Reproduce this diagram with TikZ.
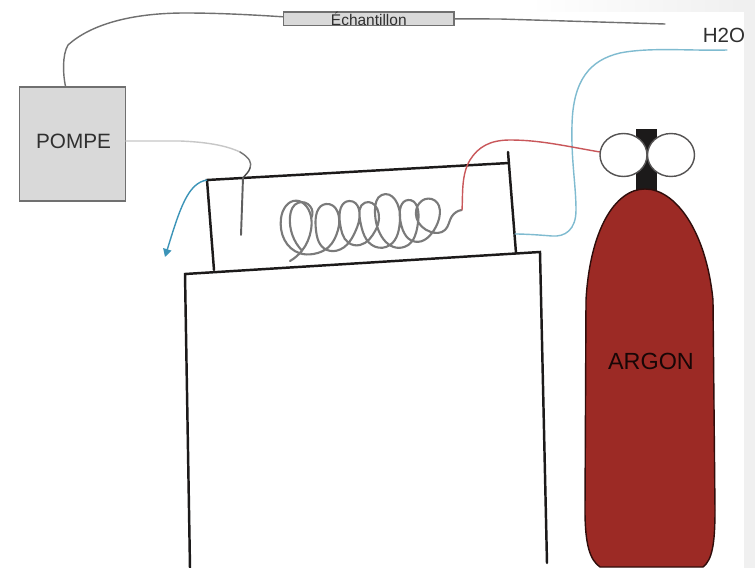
\documentclass[tikz,border=0pt]{standalone}
\usepackage{fontspec}
\setmainfont{Liberation Sans}
\usetikzlibrary{arrows.meta,shapes.geometric,hobby}
\definecolor{boxgray}{HTML}{D9D9D9}
\definecolor{edgegray}{HTML}{707070}
\definecolor{argonred}{HTML}{9C2A25}
\definecolor{waterblue}{HTML}{7FBBD0}
\definecolor{drainblue}{HTML}{3C94B8}
\definecolor{tubered}{HTML}{C9575A}
\definecolor{inkblack}{HTML}{1C1A1A}
\definecolor{textdark}{HTML}{303030}
\tikzset{
  x=0.02cm,y=-0.02cm,
  graybox/.style={draw=edgegray,fill=boxgray,line width=0.75pt,inner sep=0pt,text=textdark},
  label/.style={inner sep=0pt,text=textdark},
  wall/.style={draw=inkblack,line width=1.4pt,line cap=round},
  tube/.style={line width=0.8pt,line cap=round},
  coil/.style={draw=black!52,line width=1.2pt,line cap=round,line join=round},
  valve/.style={ellipse,draw=inkblack!75,fill=white,line width=0.8pt,inner sep=0pt,minimum width=0.94cm,minimum height=0.86cm},
}
\begin{document}
\begin{tikzpicture}
\useasboundingbox (0,0) rectangle (755,568);
% faint page edges
\fill[white] (0,0) rectangle (755,568);
\shade[left color=white,right color=black!6,draw=none] (530,0) rectangle (744,11);
\fill[black!6] (744,0) rectangle (755,568);
% nodes
\node[graybox,minimum width=2.11cm,minimum height=2.28cm] (pompe) at (72.5,144) {};
\node[label,font=\fontsize{11.8pt}{12pt}\selectfont] at (73.5,141) {POMPE};
\node[graybox,minimum width=3.41cm,minimum height=0.27cm,font=\fontsize{8.8pt}{10pt}\selectfont] (echant) at (368.8,18.8) {\smash{\raisebox{-0.125cm}{Échantillon}}};
\node[label,font=\fontsize{11.7pt}{12pt}\selectfont] (water) at (724,35) {H2O};
% coordinates for free ends
\coordinate (sinkend) at (665,24);
\coordinate (waterend) at (727,50);
\coordinate (waterin) at (515,234);
\coordinate (redin) at (462,210);
\coordinate (needletop) at (243,178);
\coordinate (needleend) at (241,235);
\coordinate (drainstart) at (207,180);
\coordinate (drainend) at (165,257);
% furnace
\draw[wall] (190,568) -- (185,274) -- (540,252) -- (547,563);
\draw[wall] (214,270) -- (207,180) -- (509,163);
\draw[wall] (508,152) -- (516,253);
% sample line
\draw[tube,draw=edgegray] ([xshift=-0.14cm]pompe.north) .. controls (63,75) and (62,55) .. (68,45) .. controls (90,25) and (130,13) .. (185,13) .. controls (220,13) and (255,15) .. ([yshift=0.04cm]echant.west);
\draw[tube,draw=edgegray] (echant.east) -- (500,19) -- (sinkend);
% pump tube
\draw[tube,draw=black!22] ([yshift=0.06cm]pompe.east) -- (180,141) .. controls (205,142) and (225,145) .. (240,152);
\draw[tube,draw=black!55] (240,152) .. controls (250,158) and (252,163) .. (250,168);
\draw[tube,draw=black!70] (250,168) .. controls (249,172) and (246,174) .. (needletop);
\draw[line width=1.1pt,draw=edgegray!85!black,line cap=round] (needletop) -- (needleend);
% water
\draw[tube,draw=waterblue] (waterend) .. controls (690,51) and (650,47) .. (620,53) .. controls (590,60) and (573,80) .. (572,125) .. controls (571,160) and (576,185) .. (576,210) .. controls (576,230) and (565,237) .. (552,236) .. controls (540,235) and (525,234) .. (waterin);
\draw[draw=drainblue,line width=0.8pt,-{Triangle[length=0.16cm,width=0.17cm]}] (drainstart) .. controls (188,183) and (180,208) .. (drainend);
% coil
\begin{scope}[shift={(200,130)},scale=1/3]
\draw[coil,use Hobby shortcut] (270,393) .. (306,362) .. (333,300) .. (320,230) .. (290,212) .. (243,265) .. (300,370) .. (340,372) .. (385,352) .. (414,300) .. (378,222) .. (347,290) .. (372,355) .. (410,362) .. (472,290) .. (448,213) .. (420,280) .. (445,338) .. (480,345) .. (527,300) .. (495,218) .. (480,270) .. (525,350) .. (570,345) .. (600,270) .. (545,195) .. (525,240) .. (615,350) .. (655,270) .. (625,210) .. (600,265) .. (645,335) .. (708,290) .. (695,207) .. (650,265) .. (690,305) .. (735,300) .. (755,260) .. (785,240);
\draw[coil,use Hobby shortcut] (306,362) .. (270,260) .. (295,218) .. (333,265);
\end{scope}
% red tube
\draw[tube,draw=tubered] (redin) .. controls (463,195) and (461,175) .. (470,160) .. controls (478,147) and (490,140) .. (510,140) .. controls (540,140) and (565,146) .. (600,152);
% cylinder
\fill[inkblack] (636,129) rectangle (657,192);
\node[valve] (valveL) at (623.5,155) {};
\node[valve] (valveR) at (671,155) {};
\draw[draw=black!70!argonred,fill=argonred,line width=0.8pt] (600,567) .. controls (590,560) and (585,545) .. (585,510) -- (586,300) .. controls (590,230) and (615,189) .. (645,189) .. controls (675,189) and (706,230) .. (713,300) -- (715,510) .. controls (715,545) and (712,560) .. (703,567) -- cycle;
\node[label,font=\fontsize{13.3pt}{14pt}\selectfont,text=black!85!argonred] (argon) at (651,361) {ARGON};
\end{tikzpicture}
\end{document}
